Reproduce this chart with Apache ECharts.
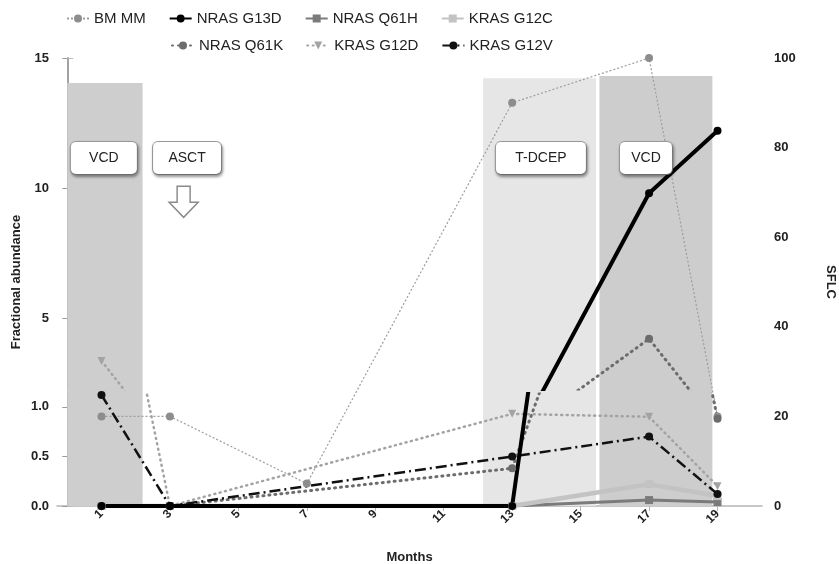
<!DOCTYPE html>
<html><head><meta charset="utf-8">
<script src="https://cdn.jsdelivr.net/npm/echarts@6/dist/echarts.min.js"></script>
<style>html,body{margin:0;padding:0;background:#fff}#c{width:839px;height:564px}</style>
</head><body><div id="c"></div>
<script>
// ---------------- data ----------------
const bmMonths = [1, 3, 7, 13, 17, 19];
const bmMM = [20, 20, 5, 90, 100, 20];            // plotted on SFLC (right) axis
const mutMonths = [1, 3, 13, 17, 19];
const nrasG13D = [0, 0, 0, 9.8, 12.2];
const nrasQ61H = [0, 0, 0, 0.06, 0.04];
const krasG12C = [0, 0, 0, 0.22, 0.1];
const nrasQ61K = [0, 0, 0.38, 4.2, 0.88];
const krasG12D = [3.35, 0, 0.93, 0.9, 0.2];
const krasG12V = [1.12, 0, 0.5, 0.7, 0.12];
const monthTicks = [1, 3, 5, 7, 9, 11, 13, 15, 17, 19];
const lowerTicks = [0, 0.5, 1.0];
const upperTicks = [5, 10, 15];
const phaseNames = ['VCD', 'T-DCEP', 'VCD'];
const phaseStart = [0, 12.15, 15.55];
const phaseEnd = [2.2, 15.45, 18.85];
const phaseTop = [94.4, 95.5, 96];
const noteLabels = ['VCD', 'ASCT', 'T-DCEP', 'VCD'];
const noteMonths = [1.07, 3.5, 13.84, 16.91];
const noteLevel = 77.7;
const arrowMonth = 3.4, arrowLevel = 67.9;

// ---------------- styles ----------------
const ff = "'Liberation Sans', Arial, Helvetica, sans-serif";
const phaseColors = ['#cecece', '#e6e6e6', '#cdcdcd'];
const noteWidths = [66, 68, 90, 52];
const pairs = (xs, ys) => xs.map((x, i) => [x, ys[i]]);

const mutDefs = [
  {name: 'NRAS Q61H', vals: nrasQ61H, color: '#7b7b7b', width: 3, type: 'solid', symbol: 'rect', size: 8},
  {name: 'KRAS G12C', vals: krasG12C, color: '#c3c3c3', width: 4.5, type: 'solid', symbol: 'rect', size: 8},
  {name: 'NRAS Q61K', vals: nrasQ61K, color: '#6c6c6c', width: 3, type: [1, 5], cap: 'round', symbol: 'circle', size: 8},
  {name: 'KRAS G12D', vals: krasG12D, color: '#a3a3a3', width: 2.5, type: [1, 4.5], cap: 'round', symbol: 'triangle', rotate: 180, size: 8},
  {name: 'KRAS G12V', vals: krasG12V, color: '#111111', width: 2.5, type: [11, 4, 2, 4], symbol: 'circle', size: 8},
  {name: 'NRAS G13D', vals: nrasG13D, color: '#000000', width: 4, type: 'solid', symbol: 'circle', size: 8}
];

const series = [];
// phase bands and annotation boxes
series.push({
  type: 'line', xAxisIndex: 0, yAxisIndex: 0, data: [], silent: true, z: 1,
  markArea: {
    silent: true,
    data: phaseNames.map((n, i) => [
      {xAxis: phaseStart[i], yAxis: 0, itemStyle: {color: phaseColors[i]}},
      {xAxis: phaseEnd[i], yAxis: phaseTop[i]}
    ])
  },
  markPoint: {
    silent: true,
    data: noteLabels.map((t, i) => ({
      coord: [noteMonths[i], noteLevel], symbol: 'rect', symbolSize: 1,
      itemStyle: {color: 'rgba(0,0,0,0)'},
      label: {
        show: true, position: 'inside', formatter: t,
        width: noteWidths[i], height: 32, lineHeight: 32, align: 'center', verticalAlign: 'middle',
        backgroundColor: '#fff', borderColor: '#9a9a9a', borderWidth: 1, borderRadius: 5,
        shadowColor: 'rgba(0,0,0,0.35)', shadowBlur: 3, shadowOffsetX: 1, shadowOffsetY: 2,
        fontSize: 14, color: '#222', fontFamily: ff
      }
    })).concat([{
      coord: [arrowMonth, arrowLevel],
      symbol: 'path://M8,0 H21 V16 H29 L14.5,31 L0,16 H8 Z', symbolSize: [29, 31],
      itemStyle: {color: '#fff', borderColor: '#8a8a8a', borderWidth: 1.5},
      label: {show: false}
    }])
  }
});
series.push({
  name: 'BM MM', type: 'line', xAxisIndex: 0, yAxisIndex: 0, data: pairs(bmMonths, bmMM),
  symbol: 'circle', symbolSize: 8, itemStyle: {color: '#8d8d8d'},
  lineStyle: {color: '#9d9d9d', width: 1.2, type: [2, 2]}
});
mutDefs.forEach(d => {
  [[1, 2], [2, 3]].forEach(([xi, yi]) => {
    series.push({
      name: d.name, type: 'line', xAxisIndex: xi, yAxisIndex: yi, data: pairs(mutMonths, d.vals),
      symbol: d.symbol, symbolSize: d.size, symbolRotate: d.rotate || 0,
      itemStyle: {color: d.color},
      lineStyle: {color: d.color, width: d.width, type: d.type, cap: d.cap || 'butt'},
      clip: true
    });
  });
});

const axisGray = '#9a9a9a';
const xBase = {type: 'value', min: -0.3, max: 20.3, splitLine: {show: false}};
const legendBase = {itemWidth: 22, itemHeight: 10, itemGap: 23,
  textStyle: {fontSize: 15, color: '#222', fontFamily: ff}};
const option = {
  animation: false,
  textStyle: {fontFamily: ff},
  legend: [
    Object.assign({data: ['BM MM', 'NRAS G13D', 'NRAS Q61H', 'KRAS G12C'], left: 61, top: 6}, legendBase),
    Object.assign({data: ['NRAS Q61K', 'KRAS G12D', 'KRAS G12V'], left: 166, top: 33}, legendBase)
  ],
  grid: [
    {left: 57, right: 77, top: 58, bottom: 58, outerBoundsMode: 'none', containLabel: false},
    {left: 57, right: 77, top: 394, bottom: 58, outerBoundsMode: 'none', containLabel: false},
    {left: 57, right: 77, top: 58, bottom: 175, outerBoundsMode: 'none', containLabel: false}
  ],
  xAxis: [
    Object.assign({}, xBase, {
      gridIndex: 0,
      axisLine: {onZero: false, lineStyle: {color: '#b5b5b5', width: 1.5}},
      axisTick: {customValues: monthTicks, length: 5, lineStyle: {color: '#b5b5b5'}},
      axisLabel: {customValues: monthTicks, rotate: 45, fontWeight: 'bold', fontSize: 12, color: '#222', margin: 6},
      name: 'Months', nameLocation: 'middle', nameGap: 45,
      nameTextStyle: {fontWeight: 'bold', fontSize: 13, color: '#222'}
    }),
    Object.assign({}, xBase, {gridIndex: 1, show: false}),
    Object.assign({}, xBase, {gridIndex: 2, show: false})
  ],
  yAxis: [
    {gridIndex: 0, type: 'value', position: 'right', min: 0, max: 100, interval: 20,
     axisLine: {show: true, lineStyle: {color: '#bdbdbd', width: 2}},
     axisTick: {show: true, length: 6, lineStyle: {color: '#bdbdbd'}},
     axisLabel: {fontWeight: 'bold', fontSize: 13, color: '#222', margin: 12},
     splitLine: {show: false},
     name: 'SFLC', nameLocation: 'middle', nameRotate: -90, nameGap: 62,
     nameTextStyle: {fontWeight: 'bold', fontSize: 13, color: '#222'}},
    {gridIndex: 0, type: 'value', position: 'left', min: 0, max: 1,
     axisLine: {show: false}, axisTick: {show: false}, axisLabel: {show: false}, splitLine: {show: false},
     name: 'Fractional abundance', nameLocation: 'middle', nameRotate: 90, nameGap: 34,
     nameTextStyle: {fontWeight: 'bold', fontSize: 13, color: '#222'}},
    {gridIndex: 1, type: 'value', min: 0, max: 1.13,
     axisLine: {show: true, lineStyle: {color: axisGray, width: 1.5}},
     axisTick: {show: true, customValues: lowerTicks, length: 5, lineStyle: {color: axisGray}},
     axisLabel: {customValues: lowerTicks, formatter: v => Number(v).toFixed(1), fontWeight: 'bold', fontSize: 13, color: '#222'},
     splitLine: {show: false}},
    {gridIndex: 2, type: 'value', min: 2.27, max: 15,
     axisLine: {show: true, lineStyle: {color: axisGray, width: 1.5}},
     axisTick: {show: true, customValues: upperTicks, length: 5, lineStyle: {color: axisGray}},
     axisLabel: {customValues: upperTicks, fontWeight: 'bold', fontSize: 13, color: '#222'},
     splitLine: {show: false}}
  ],
  series: series
};
const chart = echarts.init(document.getElementById('c'), null, {renderer: 'canvas'});
chart.setOption(option);
</script>
</body></html>
